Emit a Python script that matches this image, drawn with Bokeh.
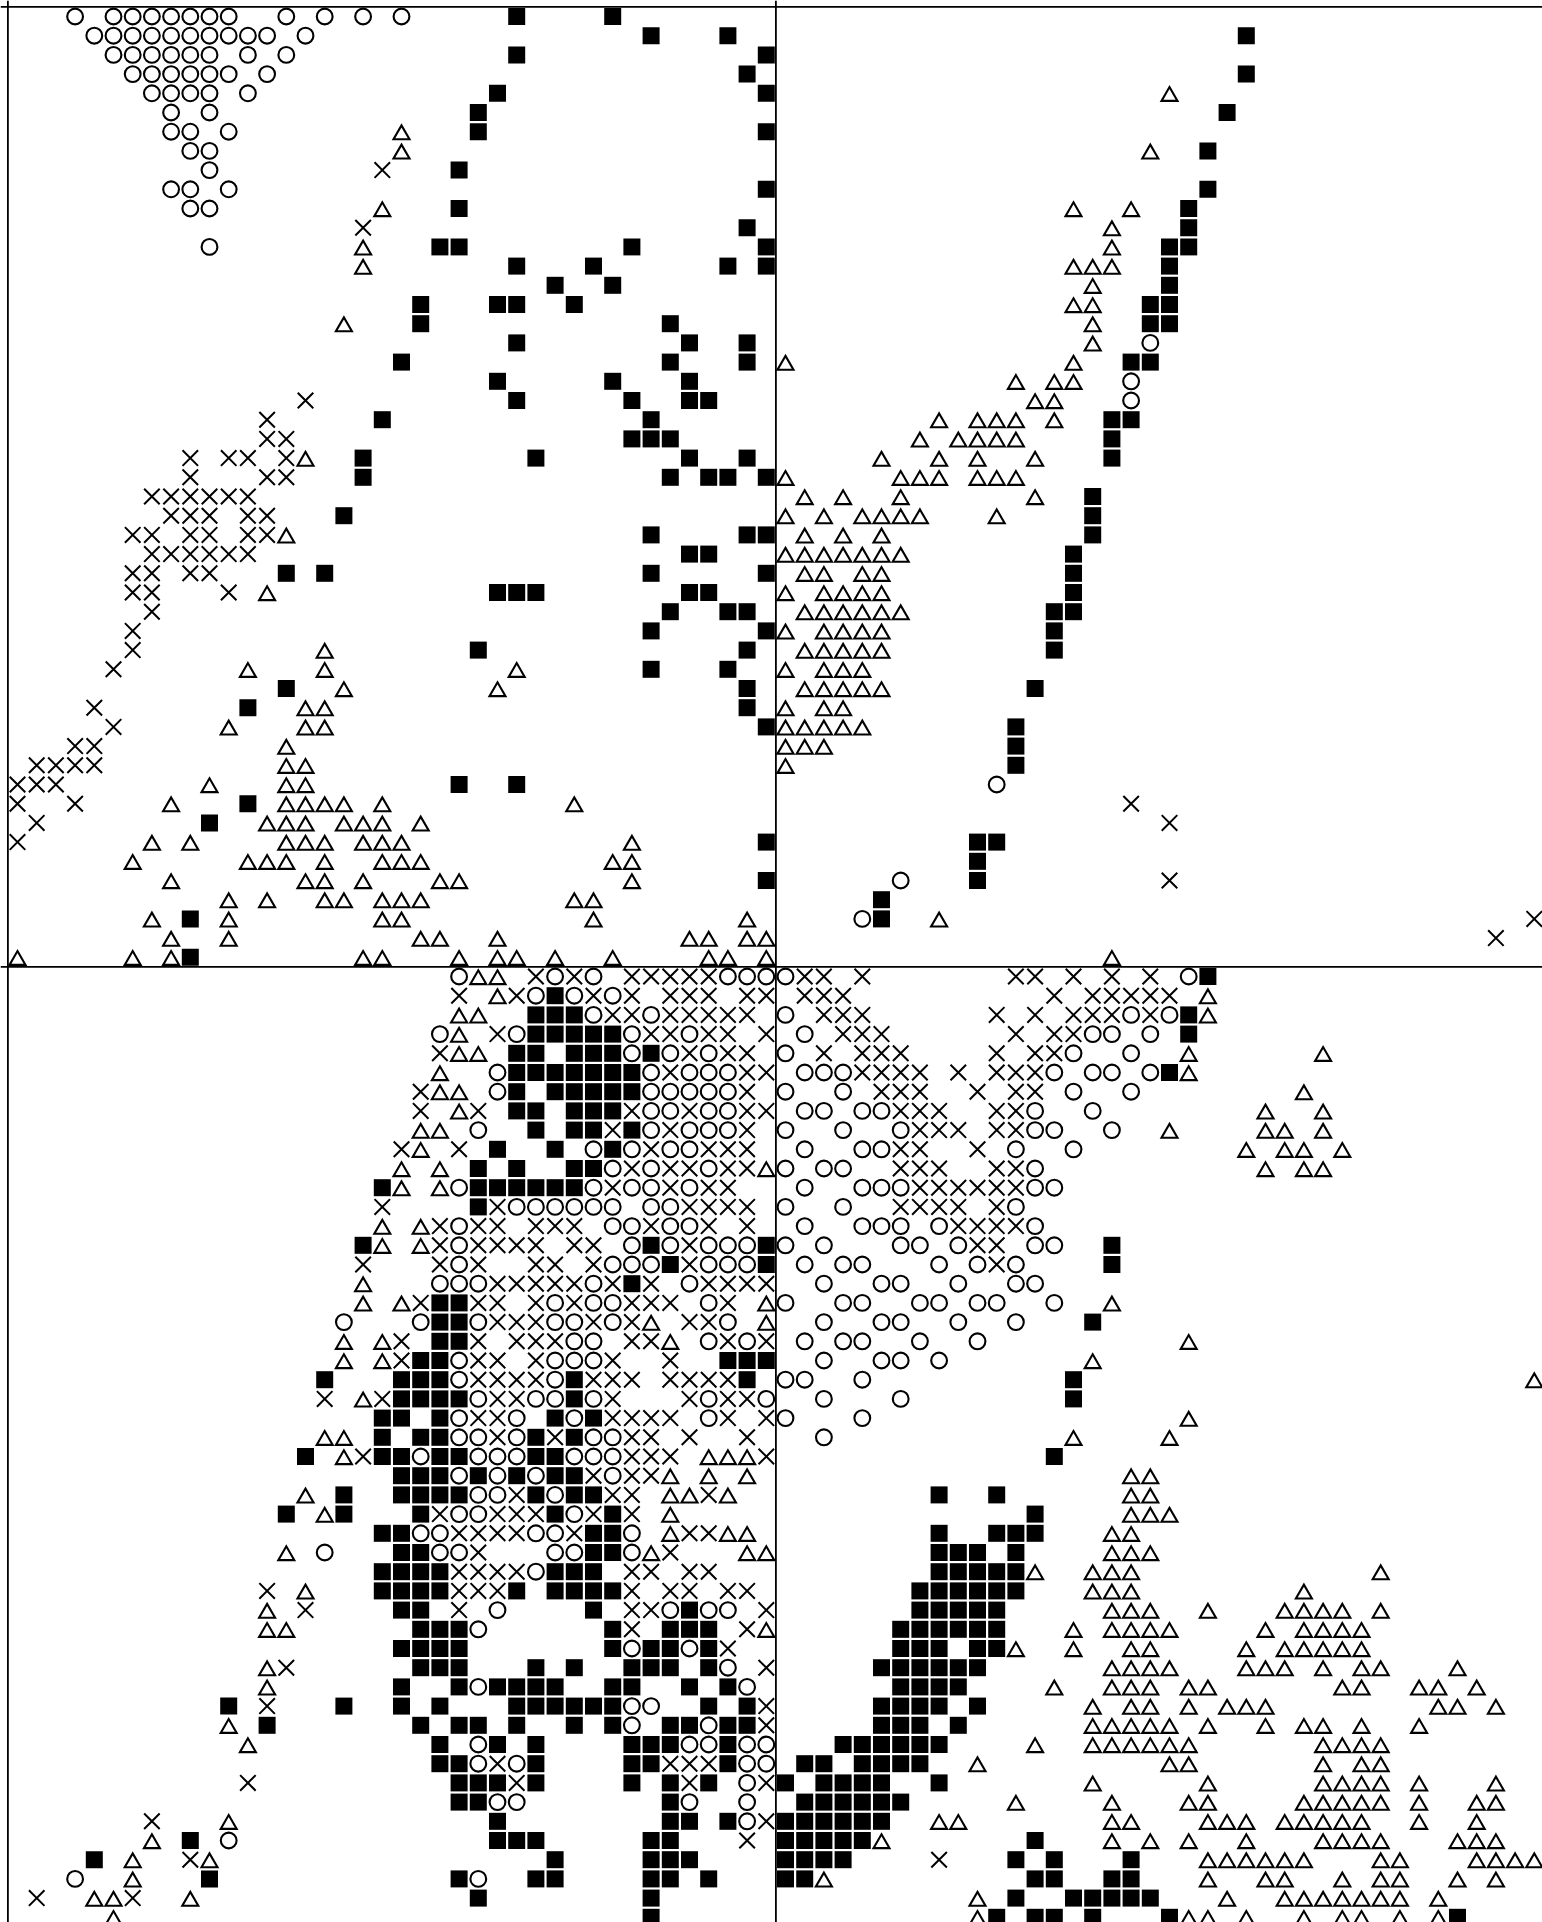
from bokeh.plotting import figure
from bokeh.models import Range1d, Span
from bokeh.embed import file_html
from bokeh.resources import INLINE

CIRCLES = {
0:[3,5,6,7,8,9,10,11,14,16,18,20],1:[4,5,6,7,8,9,10,11,12,13,15],2:[5,6,7,8,9,10,12,14],3:[6,7,8,9,10,11,13],
4:[7,8,9,10,12],5:[8,10],6:[8,9,11],7:[9,10],8:[10],9:[8,9,11],10:[9,10],12:[10],17:[59],19:[58],20:[58],40:[51],45:[46],47:[44],
50:[23,28,30,37,38,39,40,61],51:[27,29,31],52:[30,33,40,58,60],53:[22,26,32,35,41,56,57,59],
54:[32,34,36,40,55,58],55:[25,33,35,36,37,41,42,43,54,56,57,59],56:[25,33,34,35,36,37,40,43,55,58],
57:[33,34,36,37,41,42,44,45,53,56],58:[24,33,35,36,37,40,43,46,53,54,57],59:[30,32,34,35,41,44,45,52,55],
60:[31,33,36,40,42,43,53],61:[23,30,32,33,35,41,44,45,46,53,54],62:[26,27,28,29,30,31,33,34,40,43,52],
63:[23,31,32,34,35,41,44,45,46,48,53],64:[23,32,34,36,37,38,40,42,46,47,49,53,54],
65:[23,31,32,33,36,37,38,41,43,44,48,50,52],66:[22,23,24,30,35,42,45,46,49,52,53],
67:[28,30,31,36,40,43,44,47,48,50,51,54],68:[17,21,24,28,29,31,37,42,45,46,49,52],69:[29,30,36,38,41,43,44,47,50],
70:[23,28,29,30,42,45,46,48],71:[23,28,40,41,44],72:[24,27,28,30,36,39,42,46],73:[23,26,29,36,40,44],
74:[23,24,26,30,31,42],75:[21,24,25,26,29,30,31],76:[23,25,27,31],77:[24,25,28],78:[23,24,29],
79:[21,22,27,28,32],80:[16,22,23,28,29,32],81:[27],83:[25,34,36,37],84:[24],85:[32,35],86:[37],87:[24,38],
88:[32,33],89:[32,36],90:[24,35,36,38,39],91:[24,26,38,39],92:[38],93:[25,26,35,38],94:[38],95:[11],97:[3,24],
}
CROSSES = {
8:[19],11:[18],20:[15],21:[13],22:[13,14],23:[9,11,12,14],24:[9,13,14],25:[7,8,9,10,11,12],26:[8,9,10,12,13],
27:[6,7,9,10,12,13],28:[7,8,9,10,11,12],29:[6,7,9,10],30:[6,7,11],31:[7],32:[6],33:[6],34:[5],36:[4],37:[5],
38:[3,4],39:[1,2,3,4],40:[0,1,2],41:[0,3,58],42:[1,60],43:[0],45:[60],47:[79],48:[77],
50:[27,29,32,33,34,35,36,41,42,44,52,53,55,57,59],51:[23,26,30,32,34,35,36,38,39,41,42,43,54,56,57,58,59,60],
52:[31,32,34,35,36,37,38,42,43,44,51,53,55,56,57,59],53:[25,33,34,36,37,39,43,44,45,52,54,55],
54:[22,35,37,38,42,44,45,46,51,53,54],55:[34,38,39,44,45,46,47,49,51,52,53],56:[21,38,45,46,47,50,52,53],
57:[21,24,32,35,38,39,46,47,48,51,52],58:[31,34,38,47,48,49,51,52],59:[20,23,33,36,37,38,46,47,50],
60:[32,34,35,37,38,46,47,48,51,52],61:[31,34,36,37,47,48,49,50,51,52],62:[19,25,35,36,37,38,46,47,48,49,51],
63:[22,24,25,27,28,29,33,36,38,49,50,51,52],64:[22,24,25,26,27,29,30,35,50,51],65:[18,22,24,27,28,30,35,51],
66:[25,26,27,28,29,31,33,36,37,38,39],67:[21,24,25,27,29,32,33,34,37],68:[25,26,27,30,32,35,36],
69:[20,24,26,27,28,32,33,37,39],70:[20,24,25,27,31,34],71:[24,25,26,27,30,31,32,34,35,36,37],
72:[16,19,25,26,31,35,37,38],73:[24,25,31,32,33,34,37,39],74:[25,28,32,33,35,38],75:[18,32,33,34,39],76:[30,32,33],
77:[26,31,32,36],78:[22,25,26,27,30,32],79:[23,24,25,26,29,35,36],80:[24,34],81:[23,24,25,26,32,33,35,36],
82:[13,23,24,25,32,34,35,37,38],83:[15,23,32,33,39],84:[32,38],85:[37],86:[14,39],88:[13,39],89:[39],
91:[25,34,35,36],92:[12,26,35,39],94:[7,39],95:[38],96:[9,48],98:[1,6],
}
TRIANGLES = {
4:[60],6:[20],7:[20,59],10:[19,55,58],11:[57],12:[18,57],13:[18,55,56,57],14:[56],15:[55,56],16:[17,56],17:[56],
18:[40,55],19:[52,54,55],20:[53,54],21:[48,50,51,52,54],22:[47,49,50,51,52],23:[15,45,48,50,53],
24:[40,46,47,48,50,51,52],25:[41,43,46,53],26:[40,42,44,45,46,47,51],27:[14,41,43,45],28:[40,41,42,43,44,45,46],
29:[41,42,44,45],30:[13,40,42,43,44,45],31:[41,42,43,44,45,46],32:[40,42,43,44,45],33:[16,41,42,43,44,45],
34:[12,16,26,40,42,43,44],35:[17,25,41,42,43,44,45],36:[15,16,40,42,43],37:[11,15,16,40,41,42,43,44],
38:[14,40,41,42],39:[14,15,40],40:[10,14,15],41:[8,14,15,16,17,19,29],42:[13,14,15,17,18,19,21],
43:[7,9,14,15,16,18,19,20,32],44:[6,12,13,14,16,19,20,21,31,32],45:[8,15,16,18,22,23,32],
46:[11,13,16,17,19,20,21,29,30],47:[7,11,19,20,30,38,48],48:[8,11,21,22,25,35,36,38,39],
49:[0,6,8,18,19,23,25,26,28,31,36,37,39,57],
50:[24,25],51:[25,62],52:[23,24,62],53:[23],54:[23,24,61,68],55:[22,61],56:[22,23,67],57:[23,65,68],
58:[21,22,60,65,66,68],59:[21,64,66,67,69],60:[20,22,39,65,67,68],61:[20,22],63:[19,21],64:[19,21],66:[18],
67:[18,20,39,57],68:[33,39],69:[17,19,34,61],70:[17,19,56],71:[79],72:[18],73:[61],74:[16,17,55,60],
75:[17,36,37,38],76:[34,36,38,58,59],77:[15,34,35,37,58,59],78:[16,34,58,59,60],79:[34,37,38,57,58],
80:[14,33,38,39,57,58,59],81:[53,56,57,58,71],82:[15,56,57,58,67],83:[13,57,58,59,62,66,67,68,69,71],
84:[13,14,39,55,57,58,59,60,65,67,68,69,70],85:[52,55,58,59,64,66,67,68,69,70],
86:[13,57,58,59,60,64,65,66,68,70,71,75],87:[13,54,57,58,59,61,62,69,70,73,74,76],
88:[56,58,59,61,63,64,65,74,75,77],89:[11,56,57,58,59,60,62,65,67,68,70,73],
90:[12,53,56,57,58,59,60,61,68,69,70,71],91:[50,60,61,68,70,71],92:[56,62,68,69,70,71,73,77],
93:[52,57,61,62,67,68,69,70,71,73,76,77],94:[11,48,49,57,58,62,63,64,66,67,68,69,70,73,76],
95:[7,45,57,59,61,64,68,69,70,71,75,76,77],96:[6,10,62,63,64,65,66,67,71,72,76,77,78,79],
97:[6,42,62,65,66,69,71,72,75,77],98:[4,5,9,50,63,66,67,68,69,70,71,72,74],99:[5,50,61,62,64,67,69,70,72,74],
}
SQUARES = {
0:[26,31],1:[33,37,64],2:[26,39],3:[38,64],4:[25,39],5:[24,63],6:[24,39],7:[62],8:[23],9:[39,62],10:[23,61],
11:[38,61],12:[22,23,32,39,60,61],13:[26,30,37,39,60],14:[28,31,60],15:[21,25,26,29,59,60],16:[21,34,59,60],
17:[26,35,38],18:[20,34,38,58,59],19:[25,31,35],20:[26,32,35,36],21:[19,33,57,58],22:[32,33,34,57],
23:[18,27,35,38,57],24:[18,34,36,37,39],25:[56],26:[17,56],27:[33,38,39,56],28:[35,36,55],29:[14,16,33,39,55],
30:[25,26,27,35,36,55],31:[34,37,38,54,55],32:[33,39,54],33:[24,38,54],34:[33,37],35:[14,38,53],36:[12,38],
37:[39,52],38:[52],39:[52],40:[23,26],41:[12],42:[10],43:[39,50,51],44:[50],45:[39,50],46:[45],47:[9,45],49:[9],
50:[62],51:[28],52:[27,28,29,61],53:[27,28,29,30,31,61],54:[26,27,29,30,31,33],55:[26,27,28,29,30,31,32,60],
56:[26,28,29,30,31,32],57:[26,27,29,30,31],58:[27,29,30,32],59:[25,28,31],60:[24,26,29,30],
61:[19,24,25,26,27,28,29],62:[24],64:[18,33,39,57],65:[34,39,57],66:[32],67:[22,23],68:[22,23,56],69:[22,23],
70:[21,22,37,38,39],
71:[16,20,21,22,29,38,55],72:[20,21,22,23,29,55],73:[19,20,22,28,30],74:[19,21,22,27,29],
75:[15,19,20,22,23,27,28,54],76:[20,21,22,24,26,28,29],77:[17,20,21,22,23,27,29,30,48,51],
78:[14,17,21,28,31,53],79:[19,20,30,31,48,51,52,53],80:[20,21,30,31,48,49,50,52],
81:[19,20,21,22,28,29,30,48,49,50,51,52],82:[19,20,21,22,26,28,29,30,31,47,48,49,50,51,52],
83:[20,21,30,35,47,48,49,50,51],84:[21,22,23,31,34,35,36,46,47,48,49,50,51],
85:[20,21,22,23,31,33,34,36,46,47,48,50,51],86:[21,22,23,27,29,32,33,34,36,45,46,47,48,49,50],
87:[20,23,25,26,27,28,31,32,35,37,46,47,48,49],88:[11,17,20,22,26,27,28,29,30,31,36,38,45,46,47,48,50],
89:[13,21,23,24,26,29,31,34,35,37,38,45,46,47,49],90:[22,25,27,32,33,34,37,43,44,45,46,47,48],
91:[22,23,27,32,33,37,41,42,44,45,46,47],92:[23,24,25,27,32,34,36,40,42,43,44,45,48],
93:[23,24,34,41,42,43,44,45,46],94:[25,34,35,37,40,41,42,43,44,45],95:[9,25,26,27,33,34,40,41,42,43,44,53],
96:[4,28,33,34,35,40,41,42,43,52,54,58],97:[10,23,27,28,33,34,36,40,41,53,54,57,58],98:[24,33,52,55,56,57,58,59],
99:[33,51,53,54,56,60,75],
}

def xy(d):
    xs, ys = [], []
    for r, cols in d.items():
        for c in cols:
            xs.append(c); ys.append(r)
    return xs, ys

# one grid cell is 19.2 px; column 0 sits at px 17, row 0 at px 16
CELL = 19.2
W, H = 1542, 1922
p = figure(width=W, height=H, output_backend="svg", toolbar_location=None,
           x_range=Range1d(-17/CELL, (W-17)/CELL), y_range=Range1d((H-16)/CELL, -16/CELL),
           min_border=0, margin=(0, 0, 0, 0), background_fill_color="white",
           border_fill_color="white", outline_line_color=None)
p.axis.visible = False
p.grid.visible = False

x, y = xy(SQUARES)
p.scatter(x, y, marker="square", size=17, fill_color="black", line_color=None)
x, y = xy(CIRCLES)
p.scatter(x, y, marker="circle", size=15.8, fill_color=None, line_color="black", line_width=2.1)
x, y = xy(CROSSES)
p.scatter(x, y, marker="x", size=22, line_color="black", line_width=2)
x, y = xy(TRIANGLES)
TRI_SHIFT = 3.0 / CELL
p.scatter(x, [v + TRI_SHIFT for v in y], marker="triangle", size=16, fill_color=None,
          line_color="black", line_width=2.1, line_join="miter")

for dim, loc in (("height", -0.5), ("height", 39.5), ("width", -0.5), ("width", 49.5)):
    p.add_layout(Span(location=loc, dimension=dim, line_color="black", line_width=1.8))

open("out.html", "w").write(file_html(p, INLINE))
